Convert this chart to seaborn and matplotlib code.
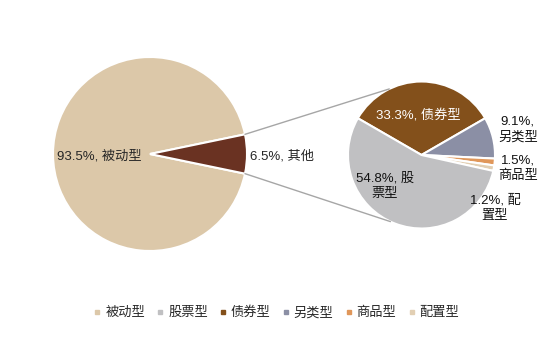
import numpy as np
import matplotlib
matplotlib.use("Agg")
import matplotlib.pyplot as plt
from matplotlib.patches import ConnectionPatch
from matplotlib.lines import Line2D
import seaborn as sns

# outer pie: passive vs. the rest
outer_labels = ["被动型", "其他"]
outer_values = [93.5, 6.5]
outer_colors = ["#DCC8A9", "#6A3222"]

# breakdown of the "other" slice
inner_labels = ["债券型", "另类型", "商品型", "配置型", "股票型"]
inner_values = [33.3, 9.1, 1.5, 1.2, 54.8]
inner_colors = ["#83501B", "#8B8FA5", "#E0975A", "#E2CFB3", "#C0C0C2"]
inner_texts = ["33.3%, 债券型", "9.1%,\n另类型", "1.5%,\n商品型", "1.2%, 配\n置型", "54.8%, 股\n票型"]

legend_labels = ["被动型", "股票型", "债券型", "另类型", "商品型", "配置型"]
legend_colors = ["#DCC8A9", "#C0C0C2", "#83501B", "#8B8FA5", "#E0975A", "#E2CFB3"]

sns.set_theme(style="white")
plt.rcParams["font.family"] = ["Liberation Sans", "Noto Sans CJK SC"]
FS = 9.5

W, H = 557, 362
fig = plt.figure(figsize=(W / 100, H / 100), dpi=100)


def axes_at(cx, cy, r):
    # pie axes placed by pixel centre / radius (y measured from top)
    return fig.add_axes([(cx - r) / W, 1 - (cy + r) / H, 2 * r / W, 2 * r / H])


ax1 = axes_at(150, 154, 97)
ax2 = axes_at(421.5, 155, 73.5)

start = outer_values[1] * 3.6 / 2
w1, _ = ax1.pie(outer_values, colors=outer_colors, startangle=start,
                wedgeprops=dict(edgecolor="white", linewidth=1.5))
w2, _ = ax2.pie(inner_values, colors=inner_colors, startangle=150, counterclock=False,
                wedgeprops=dict(edgecolor="white", linewidth=1.5))
for ax in (ax1, ax2):
    ax.set_xlim(-1, 1)
    ax.set_ylim(-1, 1)
    ax.set_aspect("equal")
    ax.axis("off")

ax1.text(-0.52, -0.02, f"{outer_values[0]}%, {outer_labels[0]}", ha="center", va="center", fontsize=FS)
ax1.text(1.03, -0.02, f"{outer_values[1]}%, {outer_labels[1]}", ha="left", va="center", fontsize=FS)

inner_pos = [(-0.05, 0.54), (1.31, 0.35), (1.31, -0.18), (1.0, -0.72), (-0.50, -0.42)]
for txt, (x, y), lbl in zip(inner_texts, inner_pos, inner_labels):
    ax2.text(x, y, txt, ha="center", va="center", fontsize=FS, multialignment="center",
             linespacing=1.4, color="white" if lbl == "债券型" else "#111111")

# connector lines from the "other" wedge to the breakdown pie
th1, th2 = np.deg2rad(w1[1].theta1), np.deg2rad(w1[1].theta2)
for th_a, ang_b in [(th2, 116), (th1, -115)]:
    b = np.deg2rad(ang_b)
    con = ConnectionPatch(xyA=(np.cos(th_a), np.sin(th_a)), coordsA=ax1.transData,
                          xyB=(np.cos(b), np.sin(b)), coordsB=ax2.transData,
                          color="#A6A6A6", linewidth=1)
    fig.add_artist(con)

handles = [Line2D([], [], marker="s", linestyle="none", markersize=3.5,
                  markerfacecolor=c, markeredgecolor=c) for c in legend_colors]
fig.legend(handles, legend_labels, loc="center", bbox_to_anchor=(0.496, 1 - 313 / H),
           ncol=6, frameon=False, fontsize=FS, handlelength=0.6, handletextpad=0.3,
           columnspacing=0.85)

fig.savefig("out.png", dpi=100)
